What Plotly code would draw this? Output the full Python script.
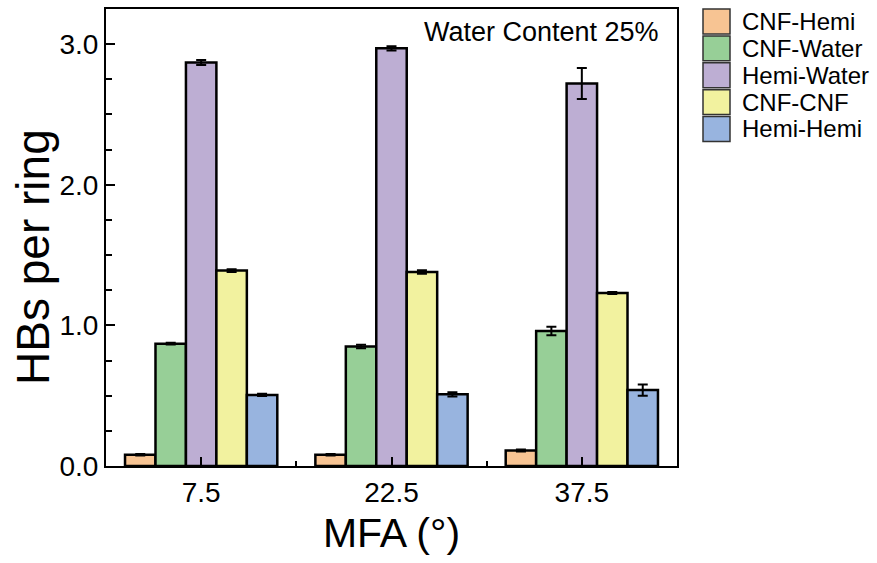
import plotly.graph_objects as go

# ---- data ----
mfa = [7.5, 22.5, 37.5]
series_names = ["CNF-Hemi", "CNF-Water", "Hemi-Water", "CNF-CNF", "Hemi-Hemi"]
cnf_hemi = [0.08, 0.08, 0.11]
cnf_water = [0.87, 0.85, 0.96]
hemi_water = [2.87, 2.97, 2.72]
cnf_cnf = [1.39, 1.38, 1.23]
hemi_hemi = [0.505, 0.51, 0.54]
err_cnf_hemi = [0.005, 0.005, 0.007]
err_cnf_water = [0.006, 0.012, 0.03]
err_hemi_water = [0.018, 0.015, 0.11]
err_cnf_cnf = [0.01, 0.012, 0.007]
err_hemi_hemi = [0.008, 0.015, 0.04]
y_ticks = [0, 1, 2, 3]
x_ticks = [7.5, 22.5, 37.5]

values = [cnf_hemi, cnf_water, hemi_water, cnf_cnf, hemi_hemi]
errors = [err_cnf_hemi, err_cnf_water, err_hemi_water, err_cnf_cnf, err_hemi_hemi]
colors = ["#F7C493", "#97CF97", "#BDAED3", "#F2F29F", "#98B4DF"]

FONT = "Liberation Sans, Arial, sans-serif"

fig = go.Figure()
for name, v, e, c in zip(series_names, values, errors, colors):
    fig.add_trace(go.Bar(
        x=mfa, y=v, name=name,
        marker=dict(color=c, line=dict(color="black", width=2.5)),
        error_y=dict(type="data", array=e, color="black", thickness=2, width=5),
        showlegend=False,
    ))

# manual legend (to reproduce large square swatches)
leg_x0 = 703
leg_y0 = 7
row_h = 27
W, H = 877, 563
for i, (name, c) in enumerate(zip(series_names, colors)):
    top = leg_y0 + i * row_h
    fig.add_shape(type="rect", xref="paper", yref="paper",
                  x0=(leg_x0 - 106) / 571, x1=(leg_x0 + 27 - 106) / 571,
                  y0=(466 - (top + 25)) / 459, y1=(466 - top) / 459,
                  fillcolor=c, line=dict(color="#333333", width=1.5))
    fig.add_annotation(xref="paper", yref="paper",
                       x=(740 - 106) / 571, y=(466 - (top + 12.5)) / 459,
                       text=name, showarrow=False, xanchor="left", yanchor="middle",
                       font=dict(family=FONT, size=24, color="black"))

fig.add_annotation(xref="paper", yref="paper", x=(661 - 106) / 571, y=(466 - 30) / 459,
                   text="Water Content 25%", showarrow=False,
                   xanchor="right", yanchor="middle",
                   font=dict(family=FONT, size=27, color="black"))

# y-axis title
fig.add_annotation(xref="paper", yref="paper", x=(33 - 106) / 571, y=(466 - 256) / 459,
                   text="HBs per ring", showarrow=False, textangle=-90,
                   xanchor="center", yanchor="middle",
                   font=dict(family=FONT, size=46, color="black"))

fig.update_layout(
    width=W, height=H,
    margin=dict(l=106, r=200, t=7, b=97),
    barmode="group", bargap=0.2, bargroupgap=0,
    plot_bgcolor="white", paper_bgcolor="white",
    font=dict(family=FONT, color="black"),
    xaxis=dict(
        range=[0, 45], tickvals=x_ticks, ticktext=[str(t) for t in x_ticks],
        ticks="inside", ticklen=9, tickwidth=2, tickcolor="black",
        minor=dict(tickvals=[15, 30], ticks="inside", ticklen=5, tickwidth=2, tickcolor="black"),
        showline=True, linecolor="black", linewidth=2, mirror=True,
        showgrid=False, zeroline=False,
        tickfont=dict(size=28, family=FONT),
        title=dict(text="MFA (°)", font=dict(size=41, family=FONT), standoff=12),
    ),
    yaxis=dict(
        range=[0, 3.25], tickvals=y_ticks, tickformat=".1f",
        ticks="inside", ticklen=9, tickwidth=2, tickcolor="black",
        minor=dict(dtick=0.25, ticks="inside", ticklen=6, tickwidth=2, tickcolor="black"),
        showline=True, linecolor="black", linewidth=2, mirror=True,
        showgrid=False, zeroline=False,
        tickfont=dict(size=28, family=FONT),
    ),
)

fig.write_html("out.html")
